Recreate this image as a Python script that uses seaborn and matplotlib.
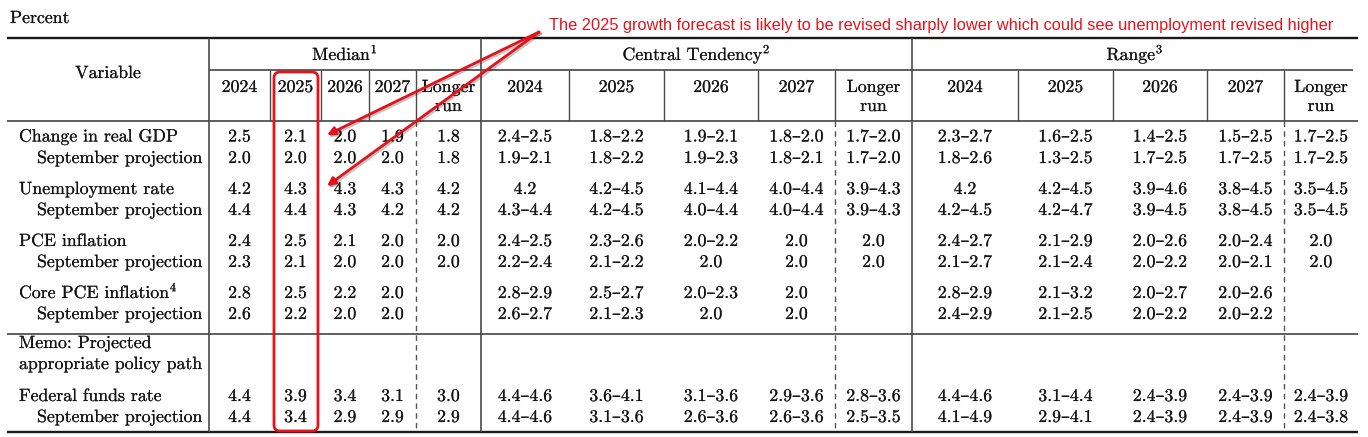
import matplotlib
matplotlib.use("Agg")
import matplotlib.pyplot as plt
import seaborn as sns
from matplotlib.patches import FancyBboxPatch
import matplotlib.patheffects as pe

sns.set_theme(style="white")
plt.rcParams['font.family'] = ['cmr10', 'DejaVu Serif']
plt.rcParams['mathtext.fontset'] = 'cm'
plt.rcParams['axes.formatter.use_mathtext'] = True

# ---------------- data ----------------
years = ["2024", "2025", "2026", "2027"]
group_titles = ["Median$^1$", "Central Tendency$^2$", "Range$^3$"]
variables = ["Change in real GDP", "Unemployment rate", "PCE inflation",
             "Core PCE inflation$^4$", "Federal funds rate"]
sub_label = "September projection"
memo_lines = ["Memo: Projected", "appropriate policy path"]
note_text = ("The 2025 growth forecast is likely to be revised sharply lower "
             "which could see unemployment revised higher")

median_latest = [["2.5", "2.1", "2.0", "1.9", "1.8"],
                 ["4.2", "4.3", "4.3", "4.3", "4.2"],
                 ["2.4", "2.5", "2.1", "2.0", "2.0"],
                 ["2.8", "2.5", "2.2", "2.0", ""],
                 ["4.4", "3.9", "3.4", "3.1", "3.0"]]
median_sept = [["2.0", "2.0", "2.0", "2.0", "1.8"],
               ["4.4", "4.4", "4.3", "4.2", "4.2"],
               ["2.3", "2.1", "2.0", "2.0", "2.0"],
               ["2.6", "2.2", "2.0", "2.0", ""],
               ["4.4", "3.4", "2.9", "2.9", "2.9"]]
central_latest = [["2.4–2.5", "1.8–2.2", "1.9–2.1", "1.8–2.0", "1.7–2.0"],
                  ["4.2", "4.2–4.5", "4.1–4.4", "4.0–4.4", "3.9–4.3"],
                  ["2.4–2.5", "2.3–2.6", "2.0–2.2", "2.0", "2.0"],
                  ["2.8–2.9", "2.5–2.7", "2.0–2.3", "2.0", ""],
                  ["4.4–4.6", "3.6–4.1", "3.1–3.6", "2.9–3.6", "2.8–3.6"]]
central_sept = [["1.9–2.1", "1.8–2.2", "1.9–2.3", "1.8–2.1", "1.7–2.0"],
                ["4.3–4.4", "4.2–4.5", "4.0–4.4", "4.0–4.4", "3.9–4.3"],
                ["2.2–2.4", "2.1–2.2", "2.0", "2.0", "2.0"],
                ["2.6–2.7", "2.1–2.3", "2.0", "2.0", ""],
                ["4.4–4.6", "3.1–3.6", "2.6–3.6", "2.6–3.6", "2.5–3.5"]]
range_latest = [["2.3–2.7", "1.6–2.5", "1.4–2.5", "1.5–2.5", "1.7–2.5"],
                ["4.2", "4.2–4.5", "3.9–4.6", "3.8–4.5", "3.5–4.5"],
                ["2.4–2.7", "2.1–2.9", "2.0–2.6", "2.0–2.4", "2.0"],
                ["2.8–2.9", "2.1–3.2", "2.0–2.7", "2.0–2.6", ""],
                ["4.4–4.6", "3.1–4.4", "2.4–3.9", "2.4–3.9", "2.4–3.9"]]
range_sept = [["1.8–2.6", "1.3–2.5", "1.7–2.5", "1.7–2.5", "1.7–2.5"],
              ["4.2–4.5", "4.2–4.7", "3.9–4.5", "3.8–4.5", "3.5–4.5"],
              ["2.1–2.7", "2.1–2.4", "2.0–2.2", "2.0–2.1", "2.0"],
              ["2.4–2.9", "2.1–2.5", "2.0–2.2", "2.0–2.2", ""],
              ["4.1–4.9", "2.9–4.1", "2.4–3.9", "2.4–3.9", "2.4–3.8"]]

# ---------------- layout (pixel units) ----------------
W, H = 1368, 437
group_edges = [[209, 270, 321, 369, 416, 481],
               [481, 569, 664, 758, 835, 912],
               [912, 1018, 1113, 1207, 1284, 1358]]
row_base_latest = [141.5, 194, 246, 298, 401]
row_base_sept = [163, 215, 267, 319, 422]
memo_base = [348, 369]
y_top, y_grp, y_hdr, y_memo, y_bot = 38, 70, 121, 334, 432
x_left, x_var, x_right = 7, 209, 1358
FS = 12.8
TXT = "#141414"
LINE = "#333333"
RED = "#e5121b"
heavy = [pe.withStroke(linewidth=0.12, foreground=TXT)]

fig = plt.figure(figsize=(W / 100, H / 100), dpi=100)
ax = fig.add_axes([0, 0, 1, 1])
ax.set_xlim(0, W)
ax.set_ylim(H, 0)
ax.axis("off")
sns.despine(ax=ax, left=True, bottom=True)


def put(x, y, s, ha="center"):
    ax.text(x, y, s, fontsize=FS, color=TXT, va="baseline", ha=ha,
            path_effects=heavy)


# rules
ax.hlines([y_top, y_bot], x_left, x_right, color="#1a1a1a", lw=1.7)
ax.hlines([y_hdr, y_memo], x_left, x_right, color=LINE, lw=1.1)
ax.hlines(y_grp, x_var, x_right - 5, color=LINE, lw=1.1)
ax.vlines([x_var, group_edges[0][-1], group_edges[1][-1]], y_top, y_bot,
          color="#4a4a4a", lw=1.2)
for edges in group_edges:
    ax.vlines(edges[1:-1], y_grp, y_hdr, color="#4a4a4a", lw=1.0)
    ax.vlines(edges[-2], y_hdr, y_bot, color="#555555", lw=1.0,
              linestyles=(0, (4, 3)))

# header text
put(10, 23, "Percent", ha="left")
put((x_left + x_var) / 2, 78, "Variable")
for title, edges in zip(group_titles, group_edges):
    put((edges[0] + edges[-1]) / 2, 60, title)
    for i, yr in enumerate(years):
        put((edges[i] + edges[i + 1]) / 2, 92, yr)
    cx = (edges[4] + edges[5]) / 2
    put(cx, 92, "Longer")
    put(cx, 111, "run")

# row labels
for name, yb, ys in zip(variables, row_base_latest, row_base_sept):
    put(19, yb, name, ha="left")
    put(37, ys, sub_label, ha="left")
for line, yb in zip(memo_lines, memo_base):
    put(19, yb, line, ha="left")

# cells
tables = [(median_latest, median_sept), (central_latest, central_sept),
          (range_latest, range_sept)]
for (latest, sept), edges in zip(tables, group_edges):
    centers = [(edges[i] + edges[i + 1]) / 2 for i in range(5)]
    for r in range(len(variables)):
        for c in range(5):
            put(centers[c], row_base_latest[r], latest[r][c])
            put(centers[c], row_base_sept[r], sept[r][c])

# red highlight box around the 2025 median column
box = FancyBboxPatch((274, 72), 44, 359,
                     boxstyle="round,pad=0,rounding_size=6",
                     fill=False, ec=RED, lw=2.0, zorder=5)
ax.add_patch(box)

# annotation text and arrows
ax.text(549, 30, note_text, fontsize=11.75, color=RED, family="Liberation Sans",
        va="baseline", ha="left")
shadow = [pe.SimpleLineShadow(offset=(1.2, -1.2), alpha=0.25), pe.Normal()]
for end in [(327, 135), (327, 186)]:
    ax.annotate("", xy=end, xytext=(539, 32),
                arrowprops=dict(arrowstyle="-|>", color=RED, lw=2.0,
                                mutation_scale=12, shrinkA=0, shrinkB=0,
                                path_effects=shadow),
                zorder=6)

fig.savefig("out.png", dpi=100)
